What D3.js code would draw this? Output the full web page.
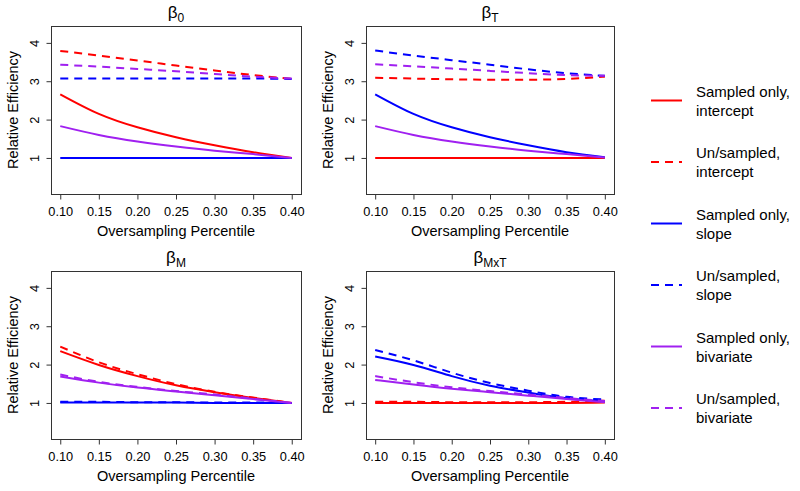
<!DOCTYPE html>
<html>
<head>
<meta charset="utf-8">
<script src="https://cdn.jsdelivr.net/npm/d3@7"></script>
<style>
  body { margin: 0; background: #fff; }
  text { font-family: "Liberation Sans", Arial, sans-serif; fill: #000; }
</style>
</head>
<body>
<div id="container"></div>
<script>
/* DATA */
const percentiles = [0.10, 0.15, 0.20, 0.25, 0.30, 0.35, 0.40];
const xTicks = [0.10, 0.15, 0.20, 0.25, 0.30, 0.35, 0.40];
const yTicks = [1, 2, 3, 4];

// panel subtitles: beta + subscript
const panelTitles = [["β", "0"], ["β", "T"], ["β", "M"], ["β", "MxT"]];

// one row per panel (b0, bT, bM, bMxT)
const sampledIntercept = [
  [2.66, 2.15, 1.80, 1.54, 1.33, 1.15, 1.00],
  [1.00, 1.00, 1.00, 1.00, 1.00, 1.00, 1.00],
  [2.35, 1.99, 1.70, 1.46, 1.28, 1.13, 1.00],
  [1.00, 1.00, 1.00, 1.00, 1.00, 1.00, 1.01]
];
const unsampledIntercept = [
  [3.79, 3.67, 3.54, 3.41, 3.28, 3.16, 3.06],
  [3.09, 3.07, 3.05, 3.04, 3.04, 3.06, 3.12],
  [2.47, 2.06, 1.75, 1.49, 1.29, 1.14, 1.00],
  [1.03, 1.03, 1.02, 1.02, 1.02, 1.03, 1.06]
];
const sampledSlope = [
  [1.00, 1.00, 1.00, 1.00, 1.00, 1.00, 1.00],
  [2.66, 2.15, 1.80, 1.54, 1.33, 1.15, 1.02],
  [1.01, 1.01, 1.01, 1.01, 1.00, 1.00, 1.00],
  [2.21, 1.99, 1.70, 1.45, 1.27, 1.12, 1.04]
];
const unsampledSlope = [
  [3.07, 3.07, 3.07, 3.07, 3.07, 3.07, 3.06],
  [3.80, 3.67, 3.55, 3.43, 3.31, 3.21, 3.14],
  [1.03, 1.03, 1.02, 1.02, 1.01, 1.01, 1.00],
  [2.38, 2.11, 1.79, 1.52, 1.32, 1.16, 1.09]
];
const sampledBivariate = [
  [1.83, 1.60, 1.43, 1.30, 1.19, 1.10, 1.00],
  [1.83, 1.60, 1.43, 1.30, 1.19, 1.10, 1.01],
  [1.69, 1.53, 1.40, 1.30, 1.20, 1.10, 1.00],
  [1.60, 1.48, 1.37, 1.28, 1.19, 1.10, 1.02]
];
const unsampledBivariate = [
  [3.43, 3.38, 3.32, 3.26, 3.19, 3.12, 3.07],
  [3.44, 3.39, 3.33, 3.27, 3.21, 3.16, 3.14],
  [1.74, 1.55, 1.42, 1.31, 1.22, 1.11, 1.00],
  [1.70, 1.54, 1.41, 1.31, 1.22, 1.13, 1.05]
];

const seriesLabels = [
  ["Sampled only,", "intercept"],
  ["Un/sampled,", "intercept"],
  ["Sampled only,", "slope"],
  ["Un/sampled,", "slope"],
  ["Sampled only,", "bivariate"],
  ["Un/sampled,", "bivariate"]
];

/* STYLE */
const seriesValues = [sampledIntercept, unsampledIntercept, sampledSlope,
                      unsampledSlope, sampledBivariate, unsampledBivariate];
const seriesColors = ["#ff0000", "#ff0000", "#0000ff", "#0000ff", "#a020f0", "#a020f0"];
const seriesDashed = [false, true, false, true, false, true];
const dash = "8,6";

/* LAYOUT */
const width = 800, height = 491;
const panels = [
  { left: 51,  right: 301, top: 26,  bottom: 194 },
  { left: 366, right: 614, top: 26,  bottom: 194 },
  { left: 51,  right: 301, top: 271, bottom: 439 },
  { left: 366, right: 614, top: 271, bottom: 439 }
];

const svg = d3.select("#container")
  .append("svg")
  .attr("width", width)
  .attr("height", height);

svg.append("rect")
  .attr("width", width)
  .attr("height", height)
  .attr("fill", "#fff");

panels.forEach((p, pi) => {
  const xScale = d3.scaleLinear()
    .domain([0.088, 0.412])
    .range([p.left, p.right]);
  const yScale = d3.scaleLinear()
    .domain([0.06, 4.44])
    .range([p.bottom, p.top]);

  const g = svg.append("g");

  // lines
  const lineGen = d3.line()
    .x((d, i) => xScale(percentiles[i]))
    .y(d => yScale(d))
    .curve(d3.curveNatural);

  seriesValues.forEach((vals, si) => {
    g.append("path")
      .datum(vals[pi])
      .attr("d", lineGen)
      .attr("fill", "none")
      .attr("stroke", seriesColors[si])
      .attr("stroke-width", 2)
      .attr("stroke-dasharray", seriesDashed[si] ? dash : null);
  });

  // box
  g.append("rect")
    .attr("x", p.left + 0.5)
    .attr("y", p.top + 0.5)
    .attr("width", p.right - p.left)
    .attr("height", p.bottom - p.top)
    .attr("fill", "none")
    .attr("stroke", "#333")
    .attr("stroke-width", 1);

  // x axis
  const xAxis = g.append("g")
    .attr("transform", `translate(0,${p.bottom + 0.5})`)
    .call(d3.axisBottom(xScale).tickValues(xTicks).tickFormat(d3.format(".2f"))
      .tickSize(5).tickPadding(7));
  xAxis.select(".domain").remove();
  xAxis.selectAll("line").attr("stroke", "#333");
  xAxis.selectAll("text")
    .attr("font-size", 12.8)
    .attr("font-family", null);

  // y axis
  const yAxis = g.append("g")
    .attr("transform", `translate(${p.left + 0.5},0)`)
    .call(d3.axisLeft(yScale).tickValues(yTicks).tickFormat(d3.format("d")).tickSize(5));
  yAxis.select(".domain").remove();
  yAxis.selectAll("line").attr("stroke", "#333");
  yAxis.selectAll("text")
    .attr("x", null)
    .attr("dy", "0.35em")
    .attr("text-anchor", "middle")
    .attr("transform", "translate(-17,0) rotate(-90)")
    .attr("font-size", 12.8)
    .attr("font-family", null);

  // axis titles
  g.append("text")
    .attr("x", (p.left + p.right) / 2)
    .attr("y", p.bottom + 42)
    .attr("text-anchor", "middle")
    .attr("font-size", 14.5)
    .text("Oversampling Percentile");

  g.append("text")
    .attr("transform", `translate(${p.left - 33},${(p.top + p.bottom) / 2}) rotate(-90)`)
    .attr("text-anchor", "middle")
    .attr("font-size", 14.5)
    .text("Relative Efficiency");

  // panel title
  const t = g.append("text")
    .attr("x", (p.left + p.right) / 2)
    .attr("y", p.top - 8)
    .attr("text-anchor", "middle")
    .attr("font-size", 17);
  t.append("tspan").text(panelTitles[pi][0]);
  t.append("tspan")
    .attr("dy", 4)
    .attr("font-size", 12)
    .text(panelTitles[pi][1]);
});

// LEGEND
const legend = svg.append("g");
seriesLabels.forEach((lab, i) => {
  const y = 100.5 + i * 61.5;
  legend.append("line")
    .attr("x1", 651).attr("x2", 682)
    .attr("y1", y).attr("y2", y)
    .attr("stroke", seriesColors[i])
    .attr("stroke-width", 2)
    .attr("stroke-dasharray", seriesDashed[i] ? dash : null);
  legend.append("text")
    .attr("x", 696).attr("y", y - 4)
    .attr("font-size", 15)
    .text(lab[0]);
  legend.append("text")
    .attr("x", 696).attr("y", y + 15)
    .attr("font-size", 15)
    .text(lab[1]);
});
</script>
</body>
</html>
